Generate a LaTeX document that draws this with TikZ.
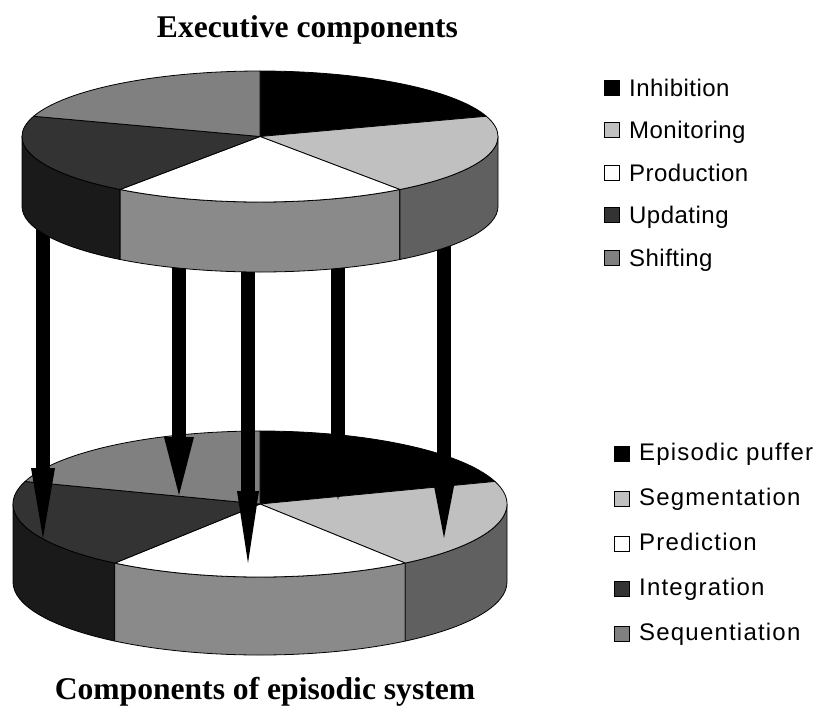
\documentclass[tikz,border=0pt]{standalone}
\usepackage{fontspec}
\setmainfont{Liberation Serif}
\newfontfamily\legfont{Liberation Sans}[LetterSpace=2]
\newfontfamily\legfontb{Liberation Sans}[LetterSpace=5]
\usetikzlibrary{arrows.meta}
\definecolor{cInh}{HTML}{000000}
\definecolor{cMon}{HTML}{C0C0C0}
\definecolor{cPro}{HTML}{FFFFFF}
\definecolor{cUpd}{HTML}{333333}
\definecolor{cShi}{HTML}{808080}
\definecolor{sUpd}{HTML}{1A1A1A}
\definecolor{sPro}{HTML}{8A8A8A}
\definecolor{sMon}{HTML}{606060}
\tikzset{
  edge/.style={draw=black, line width=0.8pt, line join=round},
  shaft/.style={line width=14pt, black},
  legsq/.style={draw=black, line width=0.9pt, minimum width=15pt, minimum height=15pt, inner sep=0pt},
  legtxt/.style={anchor=base west, inner sep=0pt, font=\legfont\fontsize{24}{28}\selectfont},
  legtxtb/.style={anchor=base west, inner sep=0pt, font=\legfontb\fontsize{24}{28}\selectfont},
  ttl/.style={anchor=base, inner sep=0pt, font=\bfseries\fontsize{31.6}{36}\selectfont}
}
% #1 cx, #2 cy, #3 rx, #4 ry, #5 height
\newcommand{\drawthreedpie}[5]{%
  \begin{scope}[shift={(#1,#2)}]
    \filldraw[edge, fill=sUpd] (180:#3 and #4) arc[start angle=180, end angle=234, x radius=#3, y radius=#4] -- ++(0,-#5) arc[start angle=234, end angle=180, x radius=#3, y radius=#4] -- cycle;
    \filldraw[edge, fill=sPro] (234:#3 and #4) arc[start angle=234, end angle=306, x radius=#3, y radius=#4] -- ++(0,-#5) arc[start angle=306, end angle=234, x radius=#3, y radius=#4] -- cycle;
    \filldraw[edge, fill=sMon] (306:#3 and #4) arc[start angle=306, end angle=360, x radius=#3, y radius=#4] -- ++(0,-#5) arc[start angle=360, end angle=306, x radius=#3, y radius=#4] -- cycle;
    \filldraw[edge, fill=cInh] (0,0) -- (90:#3 and #4) arc[start angle=90, end angle=18, x radius=#3, y radius=#4] -- cycle;
    \filldraw[edge, fill=cMon] (0,0) -- (18:#3 and #4) arc[start angle=18, end angle=-54, x radius=#3, y radius=#4] -- cycle;
    \filldraw[edge, fill=cPro] (0,0) -- (-54:#3 and #4) arc[start angle=-54, end angle=-126, x radius=#3, y radius=#4] -- cycle;
    \filldraw[edge, fill=cUpd] (0,0) -- (234:#3 and #4) arc[start angle=234, end angle=162, x radius=#3, y radius=#4] -- cycle;
    \filldraw[edge, fill=cShi] (0,0) -- (162:#3 and #4) arc[start angle=162, end angle=90, x radius=#3, y radius=#4] -- cycle;
  \end{scope}}
\begin{document}
\begin{tikzpicture}[x=1pt, y=1pt]
  \useasboundingbox (0,0) rectangle (818,-713);
  % bottom pie
  \drawthreedpie{260}{-504}{247}{73}{78}
  % arrows
  \coordinate (a1s) at (43,-150);  \coordinate (a1e) at (43,-538);
  \coordinate (a2s) at (179,-150); \coordinate (a2e) at (179,-495);
  \coordinate (a3s) at (248,-150); \coordinate (a3e) at (248,-563);
  \coordinate (a4s) at (338,-150); \coordinate (a4e) at (338,-500);
  \coordinate (a5s) at (444,-150); \coordinate (a5e) at (444,-538);
  \draw[shaft, -{Triangle[length=70pt, width=24pt, line width=0pt]}] (a1s) -- (a1e);
  \draw[shaft, -{Triangle[length=58pt, width=30pt, line width=0pt]}] (a2s) -- (a2e);
  \draw[shaft, -{Triangle[length=72pt, width=22pt, line width=0pt]}] (a3s) -- (a3e);
  \draw[shaft, -{Triangle[length=55pt, width=22pt, line width=0pt]}] (a4s) -- (a4e);
  \draw[shaft, -{Triangle[length=52pt, width=20pt, line width=0pt]}] (a5s) -- (a5e);
  % top pie
  \drawthreedpie{260}{-136.5}{238}{65.5}{70}
  % top legend
  \node[legsq, fill=cInh] (q1) at (611.5,-87.5) {};
  \node[legtxt] (t1) at (629,-96) {Inhibition};
  \node[legsq, fill=cMon] (q2) at (611.5,-130) {};
  \node[legtxt] (t2) at (629,-138.5) {Monitoring};
  \node[legsq, fill=cPro] (q3) at (611.5,-172.5) {};
  \node[legtxt] (t3) at (629,-181) {Production};
  \node[legsq, fill=cUpd] (q4) at (611.5,-215) {};
  \node[legtxt] (t4) at (629,-223.5) {Updating};
  \node[legsq, fill=cShi] (q5) at (611.5,-257.5) {};
  \node[legtxt] (t5) at (629,-266) {Shifting};
  % bottom legend
  \node[legsq, fill=cInh] (r1) at (621.5,-453.5) {};
  \node[legtxtb] (u1) at (639,-460.5) {Episodic puffer};
  \node[legsq, fill=cMon] (r2) at (621.5,-498.5) {};
  \node[legtxtb] (u2) at (639,-505.5) {Segmentation};
  \node[legsq, fill=cPro] (r3) at (621.5,-543.5) {};
  \node[legtxtb] (u3) at (639,-550.5) {Prediction};
  \node[legsq, fill=cUpd] (r4) at (621.5,-588.5) {};
  \node[legtxtb] (u4) at (639,-595.5) {Integration};
  \node[legsq, fill=cShi] (r5) at (621.5,-633.5) {};
  \node[legtxtb] (u5) at (639,-640.5) {Sequentiation};
  % titles
  \node[ttl] (title1) at (307.5,-37) {Executive components};
  \node[ttl] (title2) at (265,-699) {Components of episodic system};
\end{tikzpicture}
\end{document}
